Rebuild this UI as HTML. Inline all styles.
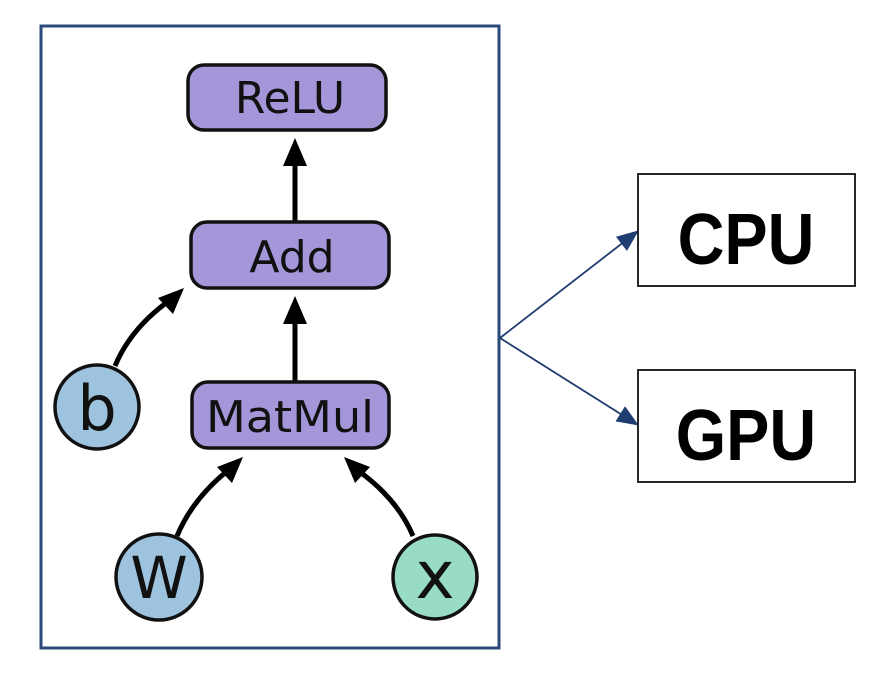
<!DOCTYPE html>
<html><head><style>
html,body{margin:0;padding:0;background:#fff;}
body{width:876px;height:682px;overflow:hidden;}
</style></head><body>
<svg width="876" height="682" viewBox="0 0 876 682" xmlns="http://www.w3.org/2000/svg">
<defs>
<marker id="bl" markerWidth="22" markerHeight="18" refX="21" refY="9" orient="auto" markerUnits="userSpaceOnUse"><path d="M0,0 L22,9 L0,18 Z" fill="#1f3d70"/></marker>
</defs>
<rect x="41" y="26" width="458" height="622" fill="#fff" stroke="#2b4a7a" stroke-width="3"/>
<g stroke="#000" stroke-width="5" fill="none">
<line x1="295" y1="222" x2="295" y2="162"/>
<line x1="295" y1="382" x2="295" y2="320"/>
<path d="M115,366 Q130,330 166,303"/>
<path d="M177,536 Q192,500 226,472"/>
<path d="M413,536 Q398,500 360,472"/>
</g>
<g fill="#000">
<path d="M295,138 L283,166 L307,166 Z"/>
<path d="M295,296 L283,324 L307,324 Z"/>
<path d="M184,288 L158,298 L173,314 Z"/>
<path d="M243,457 L217,467 L232,483 Z"/>
<path d="M344,457 L370,467 L355,483 Z"/>
</g>
<g stroke="#111" stroke-width="3.5" fill="#a496d9">
<rect x="188" y="65" width="198" height="65" rx="16"/>
<rect x="191" y="222" width="198" height="66" rx="16"/>
<rect x="192" y="382" width="197" height="66" rx="16"/>
</g>
<circle cx="97" cy="407" r="42" fill="#9ec3de" stroke="#111" stroke-width="3.5"/>
<circle cx="159" cy="577" r="43" fill="#9ec3de" stroke="#111" stroke-width="3.5"/>
<circle cx="435" cy="577" r="42" fill="#98dcc4" stroke="#111" stroke-width="3.5"/>
<g font-family="DejaVu Sans, sans-serif" font-size="44" fill="#111" text-anchor="middle">
<text x="290" y="113">ReLU</text>
<text x="292" y="272">Add</text>
<text x="290" y="432" textLength="168" lengthAdjust="spacingAndGlyphs">MatMul</text>
</g>
<g font-family="DejaVu Sans, sans-serif" fill="#111" text-anchor="middle">
<text x="97" y="430" font-size="62">b</text>
<text x="159" y="598" font-size="58">W</text>
<text x="435" y="598" font-size="66">x</text>
</g>
<g stroke="#1f3d70" stroke-width="1.8" fill="none">
<line x1="500" y1="338" x2="638" y2="231" marker-end="url(#bl)"/>
<line x1="500" y1="338" x2="638" y2="425" marker-end="url(#bl)"/>
</g>
<rect x="638" y="174" width="217" height="112" fill="#fff" stroke="#111" stroke-width="1.8"/>
<rect x="638" y="370" width="217" height="112" fill="#fff" stroke="#111" stroke-width="1.8"/>
<g font-family="Liberation Sans, sans-serif" font-weight="bold" font-size="72" fill="#000" text-anchor="middle">
<text x="746" y="264" transform="translate(746 0) scale(0.9 1) translate(-746 0)">CPU</text>
<text x="746" y="460" transform="translate(746 0) scale(0.9 1) translate(-746 0)">GPU</text>
</g>
</svg>
</body></html>
